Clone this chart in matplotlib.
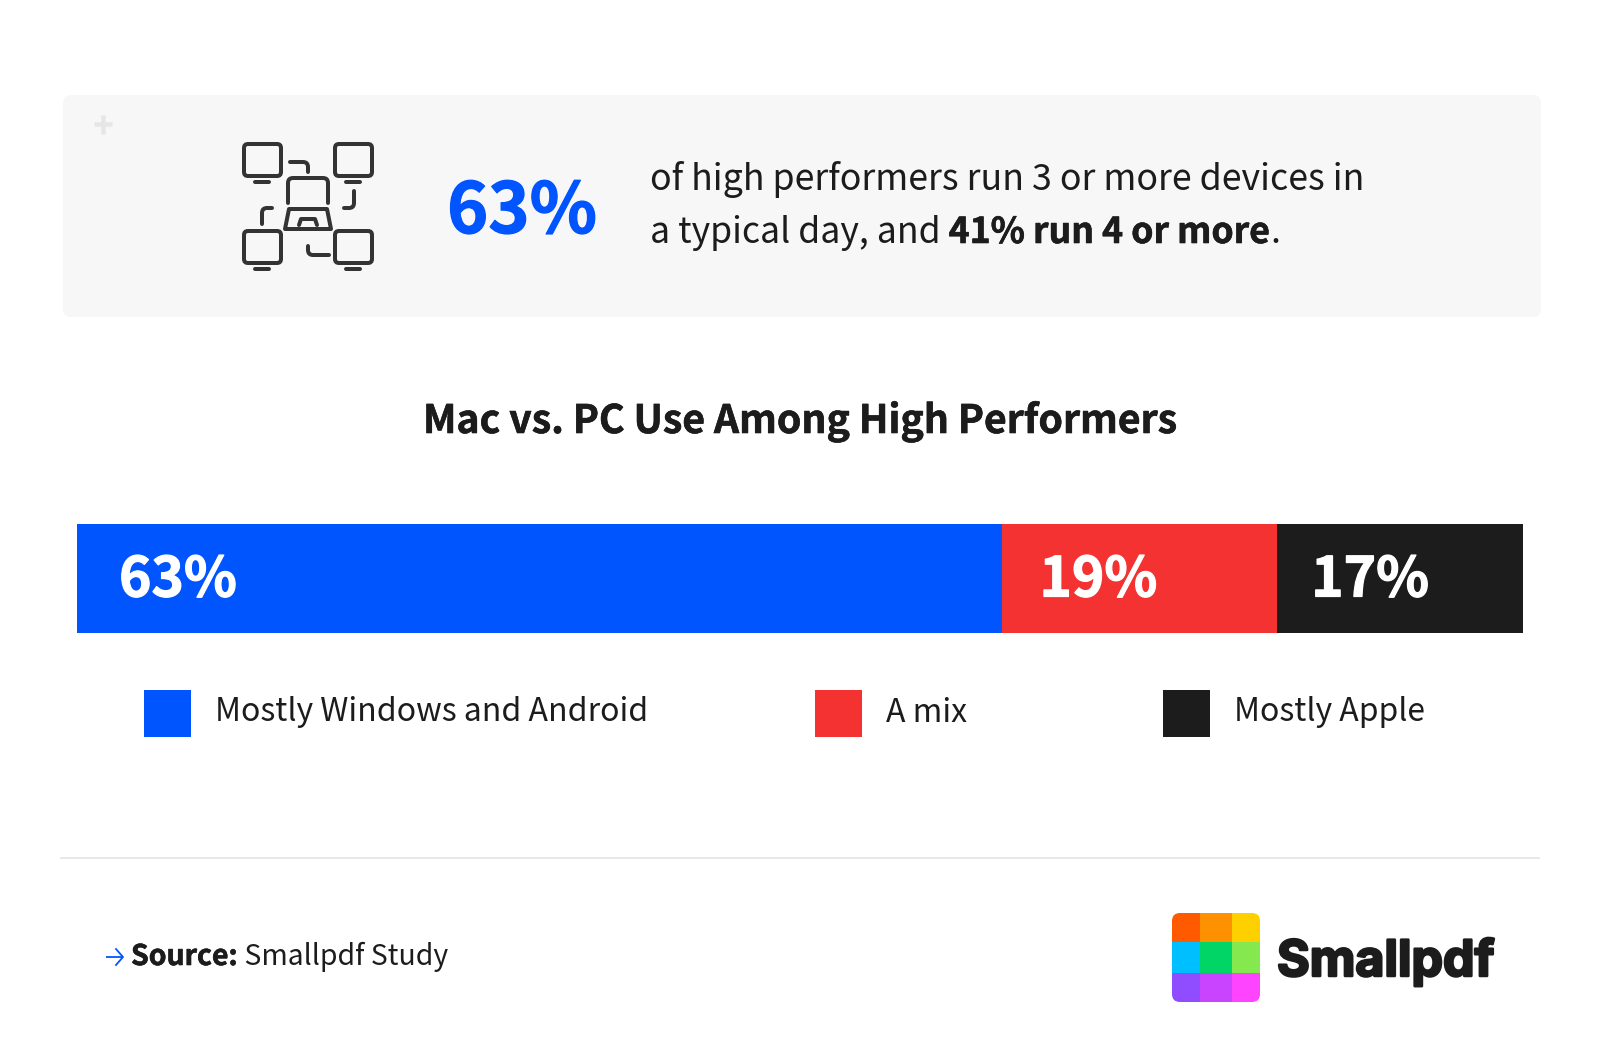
"""
Mac vs. PC use among high performers: stat panel, stacked bar, legend, footer.
"""

import matplotlib
matplotlib.use("Agg")
import matplotlib.pyplot as plt
import matplotlib.patheffects as pe
from matplotlib.patches import FancyBboxPatch, Rectangle
from matplotlib.path import Path
from matplotlib.patches import PathPatch

# ── Data ───────────────────────────────────────────────────
categories = ["Mostly Windows and Android", "A mix", "Mostly Apple"]
bar_widths = [64, 19, 17]
bar_labels = ["63%", "19%", "17%"]
colors = ["#0055ff", "#f53232", "#1c1c1c"]
logo_colors = [["#ff5a00", "#ff9000", "#ffd000"],
               ["#00bfff", "#00d566", "#86e84f"],
               ["#8f4dff", "#c944ff", "#ff44ff"]]

W, H = 1600, 1056
INK = "#1c1c1c"
FONT = ["Noto Sans CJK SC", "DejaVu Sans"]
plt.rcParams["font.family"] = FONT

fig = plt.figure(figsize=(W / 100, H / 100), dpi=100, facecolor="white")
# page axes in pixels, y pointing down like the picture
page = fig.add_axes([0, 0, 1, 1])
page.set_xlim(0, W)
page.set_ylim(H, 0)
page.axis("off")


def px(size):
    return size * 0.72


def heavy(color, width=1.0):
    # the source font is a bit darker than the bold we have
    return [pe.withStroke(linewidth=px(width), foreground=color)]


def run_text(x, y, parts, size):
    # draw (string, weight) runs one after the other on a baseline
    renderer = fig.canvas.get_renderer()
    for s, weight in parts:
        t = page.text(x, y, s, fontsize=px(size), fontweight=weight, color=INK, va="baseline")
        if weight == "bold":
            t.set_path_effects(heavy(INK, 0.6))
        x = page.transData.inverted().transform(t.get_window_extent(renderer).corners()[2:])[0][0]
    return x


# ── Top panel ──────────────────────────────────────────────
page.add_patch(FancyBboxPatch((69, 101), 1466, 210, boxstyle="round,pad=6,rounding_size=8",
                              fc="#f7f7f7", ec="none"))
page.plot([94, 112], [124, 124], color="#e6e6e6", lw=px(4.5), solid_capstyle="butt")
page.plot([103, 103], [115, 134], color="#e6e6e6", lw=px(4.5), solid_capstyle="butt")

# icon
ICON = "#333333"
LW = px(4)
for mx, my in [(242, 142), (333, 142), (242, 229), (333, 229)]:
    page.add_patch(FancyBboxPatch((mx + 6, my + 6), 29, 24, boxstyle="round,pad=4,rounding_size=4",
                                  fc="none", ec=ICON, lw=LW))
    page.plot([mx + 13, mx + 27], [my + 40, my + 40], color=ICON, lw=LW, solid_capstyle="round")


def bend(p0, p1, p2):
    # two straight legs with a small rounded corner at p1
    r = 5
    def toward(a, b):
        d = ((b[0] - a[0]) ** 2 + (b[1] - a[1]) ** 2) ** 0.5
        return (a[0] + (b[0] - a[0]) * r / d, a[1] + (b[1] - a[1]) * r / d)
    verts = [p0, toward(p1, p0), p1, toward(p1, p2), p2]
    codes = [Path.MOVETO, Path.LINETO, Path.CURVE3, Path.CURVE3, Path.LINETO]
    page.add_patch(PathPatch(Path(verts, codes), fc="none", ec=ICON, lw=LW, capstyle="round"))


bend((290, 162), (308, 162), (308, 172))
bend((354, 191), (354, 208), (344, 208))
bend((262, 224), (262, 208), (272, 208))
bend((308, 246), (308, 255), (329, 255))

# laptop
bend((288, 203), (288, 178), (308, 178))
bend((308, 178), (328, 178), (328, 203))
page.add_patch(PathPatch(Path([(289, 209), (327, 209), (331, 229), (285, 229), (289, 209)], closed=True),
                         fc="none", ec=ICON, lw=LW, joinstyle="round"))
page.plot([299, 301, 315, 317], [225, 219, 219, 225], color=ICON, lw=LW,
          solid_capstyle="round", solid_joinstyle="round")

page.text(447, 233, "63%", fontsize=px(70), fontweight="bold", color=colors[0], va="baseline",
          path_effects=heavy(colors[0], 1.2))
run_text(650, 190.5, [("of high performers run 3 or more devices in", "normal")], 35.7)
run_text(650, 243, [("a typical day, and ", "normal"), ("41% run 4 or more", "bold"), (".", "normal")], 35.6)

# ── Title ──────────────────────────────────────────────────
page.text(800, 433, "Mac vs. PC Use Among High Performers", fontsize=px(39.2), fontweight="bold",
          color=INK, ha="center", va="baseline", path_effects=heavy(INK, 0.6))

# ── Stacked bar ────────────────────────────────────────────
ax = fig.add_axes([77 / W, 1 - 633 / H, 1446 / W, 109 / H])
left = 0
for w, lab, c, pad in zip(bar_widths, bar_labels, colors, [42, 37, 34]):
    ax.barh(0, w, left=left, height=1, color=c)
    ax.annotate(lab, (left, 0), xytext=(px(pad), -px(18)), textcoords="offset points",
                fontsize=px(55), fontweight="bold", color="white", va="baseline",
                path_effects=heavy("white", 1.2))
    left += w
ax.set_xlim(0, 100)
ax.set_ylim(-0.5, 0.5)
ax.axis("off")

# ── Legend ─────────────────────────────────────────────────
for name, c, sx in zip(categories, colors, [144, 815, 1163]):
    page.add_patch(Rectangle((sx, 690), 47, 47, fc=c, ec="none"))
    page.text(sx + 71, 721.5, name, fontsize=px(32), color=INK, va="baseline")

# ── Footer ─────────────────────────────────────────────────
page.plot([60, 1540], [858, 858], color="#e8e8e8", lw=px(2), solid_capstyle="butt")
page.plot([106, 123], [957, 957], color=colors[0], lw=px(1.8), solid_capstyle="butt")
page.plot([116, 123, 116], [949, 957, 965], color=colors[0], lw=px(1.8))
run_text(131, 965, [("Source:", "bold"), (" Smallpdf Study", "normal")], 28.4)

# logo
xs = [1172, 1200, 1232, 1260]
ys = [913, 942, 973, 1002]
clip = FancyBboxPatch((1180, 921), 72, 73, boxstyle="round,pad=8,rounding_size=8", fc="none", ec="none",
                      transform=page.transData)
page.add_patch(clip)
for i, row in enumerate(logo_colors):
    for j, c in enumerate(row):
        cell = Rectangle((xs[j], ys[i]), xs[j + 1] - xs[j], ys[i + 1] - ys[i], fc=c, ec="none")
        page.add_patch(cell)
        cell.set_clip_path(clip)
page.text(1277, 976, "Smallpdf", fontsize=px(50), fontweight="bold", family=["Inter", "DejaVu Sans"],
          color=INK, va="baseline", path_effects=heavy(INK, 2.5))

fig.savefig("out.png", dpi=100, facecolor="white")
